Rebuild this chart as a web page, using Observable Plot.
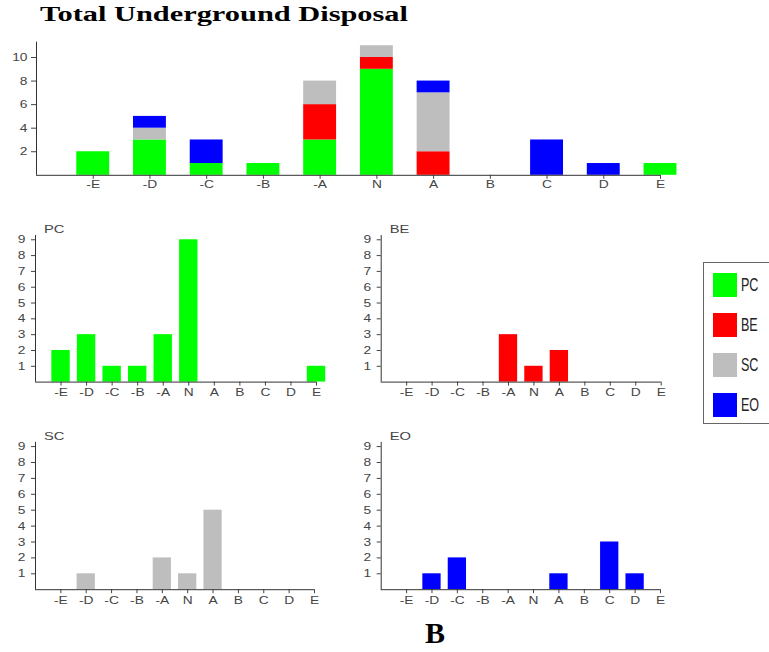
<!DOCTYPE html>
<html><head><meta charset="utf-8">
<script src="https://cdn.jsdelivr.net/npm/d3@7"></script>
<script src="https://cdn.jsdelivr.net/npm/@observablehq/plot@0.6"></script>
<style>
html,body{margin:0;padding:0;background:#fff;}
#root{position:relative;width:769px;height:652px;overflow:hidden;background:#fff;}
.abs{position:absolute;}
#title{left:40px;top:3.5px;font-family:"Liberation Serif","Times New Roman",serif;font-weight:bold;font-size:20.5px;line-height:1;transform-origin:0 0;white-space:nowrap;color:#000;}
#caption{left:385px;top:618px;width:100px;text-align:center;font-family:"Liberation Serif","Times New Roman",serif;font-weight:bold;font-size:30px;line-height:1;color:#000;}
#legend{left:702.5px;top:261.5px;width:90px;height:162px;box-sizing:border-box;border:1px solid #666;background:#fff;}
.item{position:absolute;left:9px;height:24px;display:flex;align-items:center;}
.sw{width:24px;height:24px;}
.lab{margin-left:4.5px;font-family:"Liberation Sans",Arial,sans-serif;font-size:19px;color:#222;transform:scaleX(0.66);transform-origin:0 50%;}
svg{display:block;overflow:visible;}
</style></head><body><div id="root"></div>
<script>
// ---- data ----
const categories = ["-E", "-D", "-C", "-B", "-A", "N", "A", "B", "C", "D", "E"];
const series = ["PC", "BE", "SC", "EO"];
const seriesColors = ["#00ff00", "#ff0000", "#bebebe", "#0000ff"];
const PC = [2, 3, 1, 1, 3, 9, 0, 0, 0, 0, 1];
const BE = [0, 0, 0, 0, 3, 1, 2, 0, 0, 0, 0];
const SC = [0, 1, 0, 0, 2, 1, 5, 0, 0, 0, 0];
const EO = [0, 1, 2, 0, 0, 0, 1, 0, 3, 1, 0];
const totalTicks = [2, 4, 6, 8, 10];
const panelTicks = [1, 2, 3, 4, 5, 6, 7, 8, 9];
const titleText = "Total Underground Disposal";
const captionText = "B";

// ---- build tables ----
const seriesValues = {PC, BE, SC, EO};
const catIndex = categories.map((c, i) => i);
const longData = [];
series.forEach(s => seriesValues[s].forEach((v, i) => longData.push({cat: categories[i], i, value: v, series: s})));

const rootEl = document.getElementById("root");
const FONT = "'Liberation Sans', Arial, sans-serif";

function stretch(svg, k, selector) {
  svg.querySelectorAll(selector).forEach(el => {
    const x = +(el.getAttribute("x") || 0);
    const tr = el.getAttribute("transform") || "";
    el.setAttribute("transform", `${tr} translate(${x},0) scale(${k},1) translate(${-x},0)`);
  });
}
function place(node, left, topPx) {
  const d = document.createElement("div");
  d.className = "abs";
  d.style.left = left + "px";
  d.style.top = topPx + "px";
  d.appendChild(node);
  rootEl.appendChild(d);
  return d;
}

// ---- title ----
const titleEl = document.createElement("div");
titleEl.id = "title"; titleEl.className = "abs"; titleEl.textContent = titleText;
rootEl.appendChild(titleEl);

// ---- top stacked chart ----
const topChart = Plot.plot({
  width: 700, height: 170,
  marginLeft: 36, marginRight: 40, marginTop: 11.7, marginBottom: 25.2,
  style: {fontFamily: FONT, fontSize: "11px", color: "#444", background: "transparent"},
  x: {type: "linear", domain: [-1, 10], ticks: catIndex, tickFormat: i => categories[i], tickSize: 4, tickPadding: 1, label: null},
  y: {domain: [0, 11.3], ticks: totalTicks, tickSize: 5, tickPadding: 4, label: null},
  color: {domain: series, range: seriesColors},
  marks: [
    Plot.rectY(longData, {filter: d => d.value > 0, x1: d => d.i - 0.29, x2: d => d.i + 0.29, y: "value", fill: "series"}),
    Plot.ruleY([0], {stroke: "#333"}),
    Plot.ruleX([-1], {stroke: "#333"})
  ]
});
stretch(topChart, 1.25, 'g[aria-label*="axis"] text');
place(topChart, 0, 30);

// ---- small panels ----
function panel(name, left, topPx, h, mt, mb, ml, mr) {
  const k = series.indexOf(name);
  const data = longData.filter(d => d.series === name);
  const p = Plot.plot({
    width: 350, height: h,
    marginLeft: ml, marginRight: mr, marginTop: mt, marginBottom: mb,
    style: {fontFamily: FONT, fontSize: "11px", color: "#444", background: "transparent"},
    x: {type: "linear", domain: [-1, 10], ticks: catIndex, tickFormat: i => categories[i], tickSize: 4, tickPadding: 2, label: null},
    y: {domain: [0, 9.27], ticks: panelTicks, tickSize: 4, tickPadding: 6, label: null},
    marks: [
      Plot.rectY(data, {filter: d => d.value > 0, x1: d => d.i - 0.36, x2: d => d.i + 0.36, y: "value", fill: seriesColors[k]}),
      Plot.ruleY([0], {stroke: "#333"}),
      Plot.ruleX([-1], {stroke: "#333"}),
      Plot.text([name], {frameAnchor: "top-left", dx: 8.5, dy: -5.5, textAnchor: "start", lineAnchor: "middle", fontSize: 10.5, fill: "#444"})
    ]
  });
  stretch(p, 1.25, 'g[aria-label*="axis"] text');
  stretch(p, 1.4, 'g[aria-label="text"] text');
  place(p, left, topPx);
}
panel("PC", 0, 220, 190, 15, 28.4, 35, 34);
panel("BE", 346, 220, 190, 15, 28.4, 34.7, 35.3);
panel("SC", 0, 430, 180, 11.8, 20.8, 35, 36);
panel("EO", 346, 430, 180, 11.8, 20.8, 34.7, 36);

// ---- legend ----
const lg = document.createElement("div");
lg.id = "legend"; lg.className = "abs";
series.forEach((s, i) => {
  const it = document.createElement("div");
  it.className = "item";
  it.style.top = (10 + i * 40) + "px";
  const sw = document.createElement("div");
  sw.className = "sw"; sw.style.background = seriesColors[i];
  const lab = document.createElement("div");
  lab.className = "lab"; lab.textContent = s;
  it.appendChild(sw); it.appendChild(lab);
  lg.appendChild(it);
});
rootEl.appendChild(lg);

// ---- caption ----
const cap = document.createElement("div");
cap.id = "caption"; cap.className = "abs"; cap.textContent = captionText;
rootEl.appendChild(cap);

// stretch title to reference width
const tw = titleEl.getBoundingClientRect().width;
titleEl.style.transform = `scaleX(${368 / tw})`;
</script>
</body></html>
